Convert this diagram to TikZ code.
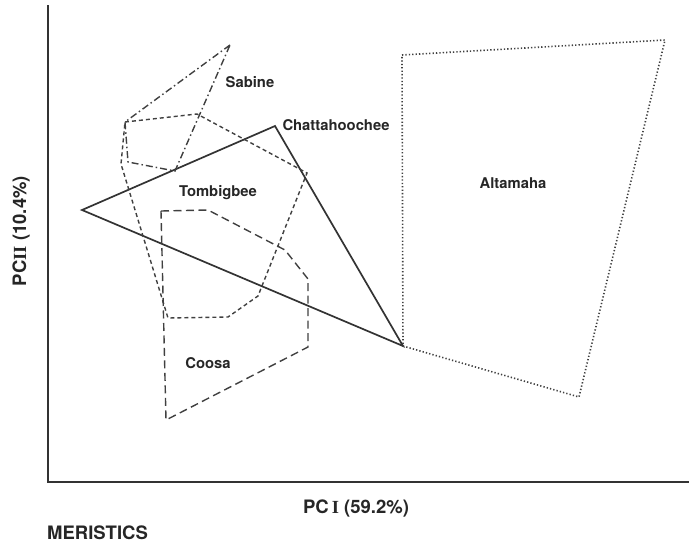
\documentclass[tikz,border=0pt]{standalone}
\usepackage{fontspec}
\setmainfont{TeX Gyre Heros}
\newfontfamily\serifI{Liberation Serif}
\begin{document}
\begin{tikzpicture}[x=1pt,y=-1pt,
  lbl/.style={font=\bfseries\fontsize{14.8}{16}\selectfont, inner sep=0pt, text=black!85},
  axlbl/.style={font=\bfseries\fontsize{18.5}{20}\selectfont, inner sep=0pt, text=black!85},
  axisline/.style={line width=1.6pt, black!80},
  chat/.style={line width=1.7pt, black!80},
  sab/.style={line width=1.4pt, black!75, dash pattern=on 7pt off 3pt on 1.5pt off 3pt},
  tomb/.style={line width=1.4pt, black!75, dash pattern=on 4pt off 3pt},
  coosa/.style={line width=1.4pt, black!75, dash pattern=on 8pt off 4.5pt},
  alta/.style={line width=1.6pt, black!75, dash pattern=on 1.3pt off 2.1pt}]
\useasboundingbox (0,0) rectangle (691,544);
% axes
\coordinate (otop) at (48,5);
\coordinate (o) at (48,482);
\coordinate (xend) at (689,482);
\draw[axisline] (otop) -- (o) -- (xend);
% Chattahoochee
\coordinate (c1) at (82,210);
\coordinate (c2) at (275,126);
\coordinate (c3) at (403,346);
\draw[chat] (c1) -- (c2) -- (c3) -- cycle;
% Altamaha
\coordinate (a1) at (402,55);
\coordinate (a2) at (665,40);
\coordinate (a3) at (579,397);
\draw[alta] (a1) -- (a2) -- (a3) -- (c3) -- cycle;
% Sabine
\coordinate (s1) at (230,45);
\coordinate (s2) at (125,122);
\coordinate (s3) at (128,162);
\coordinate (s4) at (175,171);
\draw[sab] (s1) -- (s2) -- (s3) -- (s4) -- cycle;
% Tombigbee
\coordinate (t1) at (197,114);
\coordinate (t2) at (307,173);
\coordinate (t3) at (258,296);
\coordinate (t4) at (228,317);
\coordinate (t5) at (168,318);
\coordinate (t6) at (121,164);
\draw[tomb] (s2) -- (t1) -- (t2) -- (t3) -- (t4) -- (t5) -- (t6) -- cycle;
% Coosa
\coordinate (k1) at (161,211);
\coordinate (k2) at (208,210);
\coordinate (k3) at (285,250);
\coordinate (k4) at (308,279);
\coordinate (k5) at (308,347);
\coordinate (k6) at (166,420);
\draw[coosa] (k1) -- (k2) -- (k3) -- (k4) -- (k5) -- (k6) -- cycle;
% labels
\node[lbl] (lsab) at (250,82) {Sabine};
\node[lbl] (lchat) at (336,125) {Chattahoochee};
\node[lbl] (ltomb) at (218,193) {Tombigbee};
\node[lbl] (lcoosa) at (208,363) {Coosa};
\node[lbl] (lalta) at (513,183) {Altamaha};
\node[axlbl, rotate=90] (ylab) at (21,231) {PC{\serifI II} (10.4\%)};
\node[axlbl] (xlab) at (356,508) {PC\,{\serifI I} (59.2\%)};
\node[axlbl, anchor=west] (mer) at (47,533) {MERISTICS};
\end{tikzpicture}
\end{document}
